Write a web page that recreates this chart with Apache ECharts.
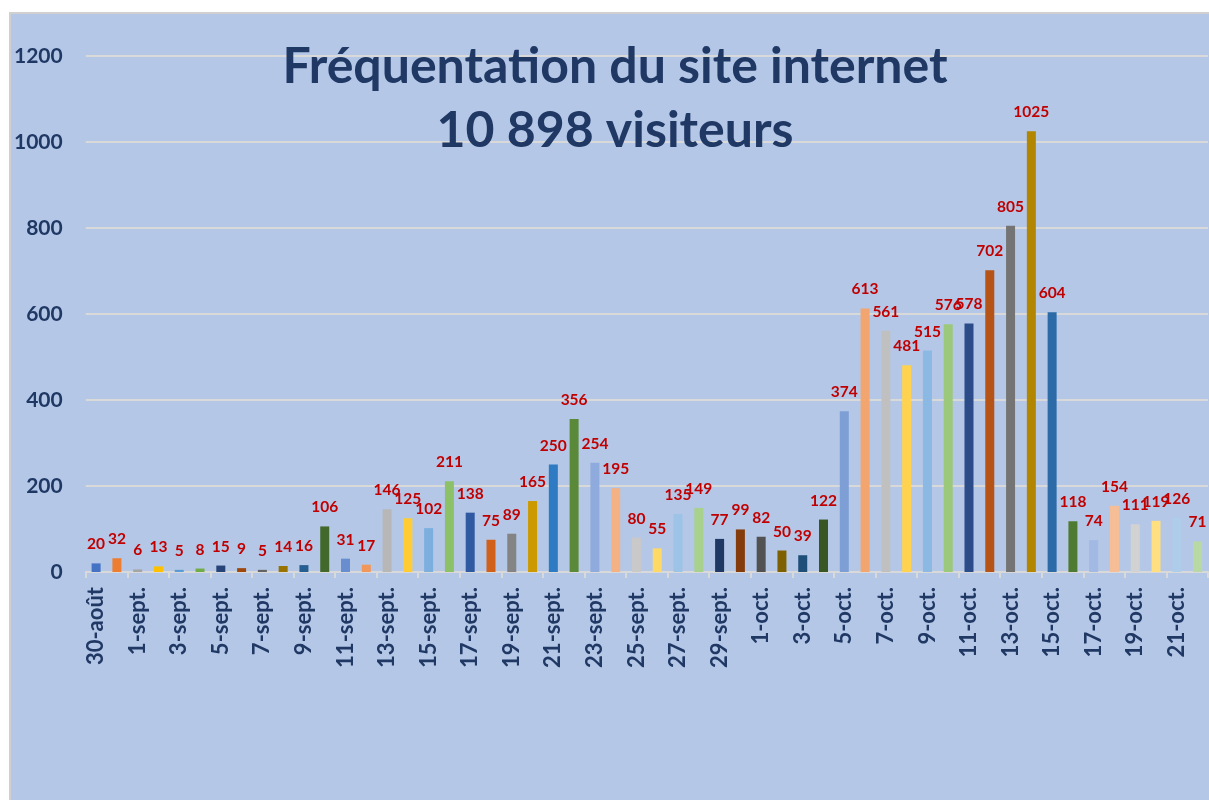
<!DOCTYPE html>
<html>
<head>
<meta charset="utf-8">
<script src="https://cdn.jsdelivr.net/npm/echarts@6/dist/echarts.min.js"></script>
<style>
  html, body { margin: 0; padding: 0; background: #ffffff; }
  #chart {
    position: absolute;
    left: 9px;
    top: 12px;
    width: 1198px;
    height: 786px;
    background: #b4c7e7;
    border-left: 2px solid #d0d0d0;
    border-top: 2px solid #d0d0d0;
  }
</style>
</head>
<body>
<div id="chart"></div>
<script>
  // Daily visitors, 30 Aug -> 22 Oct
  const days = [
    "30-août", "31-août",
    "1-sept.", "2-sept.", "3-sept.", "4-sept.", "5-sept.", "6-sept.", "7-sept.", "8-sept.", "9-sept.", "10-sept.",
    "11-sept.", "12-sept.", "13-sept.", "14-sept.", "15-sept.", "16-sept.", "17-sept.", "18-sept.", "19-sept.", "20-sept.",
    "21-sept.", "22-sept.", "23-sept.", "24-sept.", "25-sept.", "26-sept.", "27-sept.", "28-sept.", "29-sept.", "30-sept.",
    "1-oct.", "2-oct.", "3-oct.", "4-oct.", "5-oct.", "6-oct.", "7-oct.", "8-oct.", "9-oct.", "10-oct.",
    "11-oct.", "12-oct.", "13-oct.", "14-oct.", "15-oct.", "16-oct.", "17-oct.", "18-oct.", "19-oct.", "20-oct.",
    "21-oct.", "22-oct."
  ];

  const visitors = [
    20, 32,
    6, 13, 5, 8, 15, 9, 5, 14, 16, 106,
    31, 17, 146, 125, 102, 211, 138, 75, 89, 165,
    250, 356, 254, 195, 80, 55, 135, 149, 77, 99,
    82, 50, 39, 122, 374, 613, 561, 481, 515, 576,
    578, 702, 805, 1025, 604, 118, 74, 154, 111, 119,
    126, 71
  ];

  const titleLines = ["Fréquentation du site internet", "10 898 visiteurs"];

  // Excel "vary colors by point" palette
  const barColors = [
    "#4472c4", "#ed7d31", "#a5a5a5", "#ffc000", "#5b9bd5", "#70ad47",
    "#264478", "#9e480e", "#636363", "#997300", "#255e91", "#43682b",
    "#698ed0", "#f1975a", "#b7b7b7", "#ffcd33", "#7cafdd", "#8cc168",
    "#2f59a0", "#d0601a", "#848484", "#cc9a00", "#2e7bc4", "#5a8a39",
    "#8faadc", "#f4b183", "#c9c9c9", "#ffd966", "#9dc3e6", "#a9d18e",
    "#203864", "#843c0c", "#525252", "#7f6000", "#1f4e79", "#385723",
    "#7e9ed6", "#f2a56f", "#c0c0c0", "#ffd34f", "#8cb9e3", "#9bc87b",
    "#2b4c89", "#b65316", "#747474", "#b28600", "#2c6ba7", "#4f7a32",
    "#a2b9e3", "#f6be97", "#d2d2d2", "#ffdf80", "#adcdeb", "#b8d9a4"
  ];

  const navy = "#203864";
  const font = "Lato";

  const chart = echarts.init(document.getElementById("chart"));

  const option = {
    animation: false,
    title: {
      text: titleLines.join("\n"),
      left: 599,
      top: 16,
      textAlign: "center",
      textStyle: {
        color: navy,
        fontFamily: font,
        fontWeight: "bold",
        fontSize: 50,
        lineHeight: 64,
      },
    },
    grid: {
      left: 74,
      right: 1,
      top: 42,
      bottom: 228,
      containLabel: false,
    },
    xAxis: {
      type: "category",
      data: days,
      axisLine: { lineStyle: { color: "#d9d9d9", width: 2 } },
      axisTick: {
        show: true,
        interval: 1,
        length: 6,
        lineStyle: { color: "#d9d9d9", width: 2 },
      },
      axisLabel: {
        interval: 1,
        rotate: 90,
        margin: 15,
        color: navy,
        fontFamily: font,
        fontWeight: "bold",
        fontSize: 22,
      },
    },
    yAxis: {
      type: "value",
      min: 0,
      max: 1200,
      interval: 200,
      axisLine: { show: false },
      axisTick: { show: false },
      splitLine: { lineStyle: { color: "#d9d9d9", width: 2 } },
      axisLabel: {
        margin: 23,
        color: navy,
        fontFamily: font,
        fontWeight: "bold",
        fontSize: 21,
        formatter: (v) => String(v),
      },
    },
    series: [
      {
        type: "bar",
        data: visitors,
        barWidth: 9,
        itemStyle: {
          color: (p) => barColors[p.dataIndex % barColors.length],
        },
        label: {
          show: true,
          position: "top",
          distance: 11,
          color: "#c00000",
          fontFamily: font,
          fontWeight: "bold",
          fontSize: 15.5,
        },
      },
    ],
  };

  chart.setOption(option);
</script>
</body>
</html>
